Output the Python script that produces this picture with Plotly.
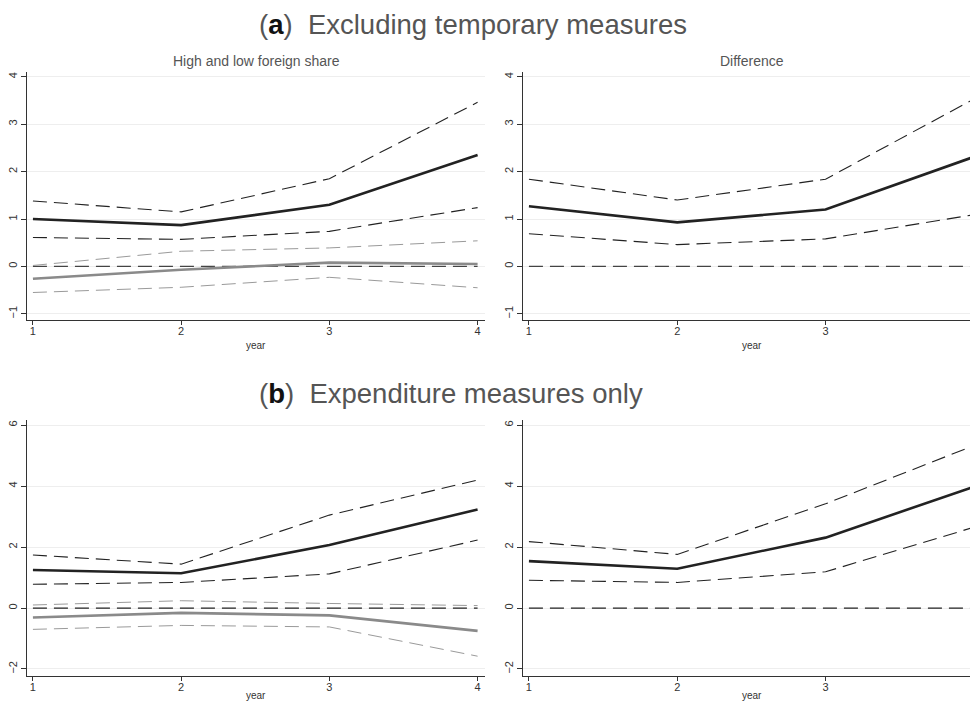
import plotly.graph_objects as go

years = [1, 2, 3, 4]

# Panel (a) - High and low foreign share
a_high = [1.00, 0.87, 1.30, 2.35]
a_high_up = [1.38, 1.15, 1.85, 3.46]
a_high_lo = [0.61, 0.57, 0.74, 1.24]
a_low = [-0.26, -0.07, 0.08, 0.05]
a_low_up = [0.02, 0.32, 0.39, 0.54]
a_low_lo = [-0.55, -0.44, -0.23, -0.45]
# Panel (a) - Difference
a_diff = [1.27, 0.93, 1.20, 2.31]
a_diff_up = [1.84, 1.40, 1.84, 3.53]
a_diff_lo = [0.69, 0.46, 0.58, 1.09]

# Panel (b) - High and low foreign share
b_high = [1.25, 1.14, 2.07, 3.23]
b_high_up = [1.74, 1.44, 3.05, 4.20]
b_high_lo = [0.78, 0.84, 1.12, 2.23]
b_low = [-0.31, -0.16, -0.24, -0.75]
b_low_up = [0.10, 0.24, 0.15, 0.08]
b_low_lo = [-0.70, -0.57, -0.62, -1.58]
# Panel (b) - Difference
b_diff = [1.54, 1.29, 2.31, 3.98]
b_diff_up = [2.18, 1.76, 3.42, 5.33]
b_diff_lo = [0.91, 0.84, 1.19, 2.65]

zero = [0, 0, 0, 0]

BLACK = "#222222"
GREY = "#8a8a8a"
GREY_D = "#9a9a9a"
DASH = "14px,7px"

fig = go.Figure()


def add(y, xa, ya, color, width, dash=None):
    fig.add_trace(go.Scatter(
        x=years, y=y, xaxis=xa, yaxis=ya, mode="lines",
        line=dict(color=color, width=width, dash=dash),
        showlegend=False, hoverinfo="skip"))


# top-left
add(zero, "x", "y", "#444444", 1.3, DASH)
add(a_low_up, "x", "y", GREY_D, 1.0, DASH)
add(a_low_lo, "x", "y", GREY_D, 1.0, DASH)
add(a_low, "x", "y", GREY, 2.6)
add(a_high_up, "x", "y", BLACK, 1.1, DASH)
add(a_high_lo, "x", "y", BLACK, 1.1, DASH)
add(a_high, "x", "y", BLACK, 2.6)
# top-right
add(zero, "x2", "y2", "#444444", 1.3, DASH)
add(a_diff_up, "x2", "y2", BLACK, 1.1, DASH)
add(a_diff_lo, "x2", "y2", BLACK, 1.1, DASH)
add(a_diff, "x2", "y2", BLACK, 2.6)
# bottom-left
add(zero, "x3", "y3", "#222222", 1.2, DASH)
add(b_low_up, "x3", "y3", GREY_D, 1.0, DASH)
add(b_low_lo, "x3", "y3", GREY_D, 1.0, DASH)
add(b_low, "x3", "y3", GREY, 2.6)
add(b_high_up, "x3", "y3", BLACK, 1.1, DASH)
add(b_high_lo, "x3", "y3", BLACK, 1.1, DASH)
add(b_high, "x3", "y3", BLACK, 2.6)
# bottom-right
add(zero, "x4", "y4", "#222222", 1.2, DASH)
add(b_diff_up, "x4", "y4", BLACK, 1.1, DASH)
add(b_diff_lo, "x4", "y4", BLACK, 1.1, DASH)
add(b_diff, "x4", "y4", BLACK, 2.6)

W, H = 970, 701
L_dom = [27 / W, 485 / W]
R_dom = [523 / W, 1.0]
T_dom = [1 - 320 / H, 1 - 72 / H]
B_dom = [1 - 676 / H, 1 - 420 / H]

tickfont = dict(family="Liberation Sans, Arial", size=11, color="#333333")


def xax(domain, anchor, rng):
    return dict(domain=domain, anchor=anchor, range=rng, tickvals=years,
                showgrid=False, zeroline=False, showline=True, linecolor="#333333",
                linewidth=1.2, ticks="outside", ticklen=4, tickcolor="#333333",
                tickfont=tickfont, ticklabelstandoff=-3)


def yax(domain, anchor, rng, tv):
    return dict(domain=domain, anchor=anchor, range=rng, tickvals=tv,
                showgrid=True, gridcolor="#eeeeee", gridwidth=1, zeroline=False,
                showline=True, linecolor="#333333", linewidth=1.2,
                ticks="outside", ticklen=5, tickcolor="#333333",
                tickangle=-90, tickfont=tickfont)


top_y = [-1.13, 4.1]
bot_y = [-2.23, 6.17]
fig.update_layout(
    width=W, height=H,
    margin=dict(l=0, r=0, t=0, b=0),
    paper_bgcolor="white", plot_bgcolor="white",
    xaxis=xax(L_dom, "y", [0.96, 4.05]),
    yaxis=yax(T_dom, "x", top_y, [-1, 0, 1, 2, 3, 4]),
    xaxis2=xax(R_dom, "y2", [0.96, 3.974]),
    yaxis2=yax(T_dom, "x2", top_y, [-1, 0, 1, 2, 3, 4]),
    xaxis3=xax(L_dom, "y3", [0.96, 4.05]),
    yaxis3=yax(B_dom, "x3", bot_y, [-2, 0, 2, 4, 6]),
    xaxis4=xax(R_dom, "y4", [0.96, 3.974]),
    yaxis4=yax(B_dom, "x4", bot_y, [-2, 0, 2, 4, 6]),
)

font = "Liberation Sans, Arial"
ann = [
    dict(x=257 / W, y=1 - 24 / H, xanchor="left",
         text="(<b><span style='color:#111111'>a</span></b>)\u00a0 Excluding temporary measures",
         font=dict(family=font, size=27.5, color="#555555")),
    dict(x=257 / W, y=1 - 393 / H, xanchor="left",
         text="(<b><span style='color:#111111'>b</span></b>)\u00a0 Expenditure measures only",
         font=dict(family=font, size=27.5, color="#555555")),
    dict(x=256 / W, y=1 - 61 / H, text="High and low foreign share",
         font=dict(family=font, size=14, color="#555555")),
    dict(x=752 / W, y=1 - 61 / H, text="Difference",
         font=dict(family=font, size=14, color="#555555")),
    dict(x=256 / W, y=1 - 345 / H, text="year", font=dict(family=font, size=10, color="#333333")),
    dict(x=752 / W, y=1 - 345 / H, text="year", font=dict(family=font, size=10, color="#333333")),
    dict(x=256 / W, y=1 - 695 / H, text="year", font=dict(family=font, size=10, color="#333333")),
    dict(x=752 / W, y=1 - 695 / H, text="year", font=dict(family=font, size=10, color="#333333")),
]
for a in ann:
    a.setdefault("xanchor", "center")
    a.update(xref="paper", yref="paper", showarrow=False, yanchor="middle")
fig.update_layout(annotations=ann)

fig.write_html("out.html")
